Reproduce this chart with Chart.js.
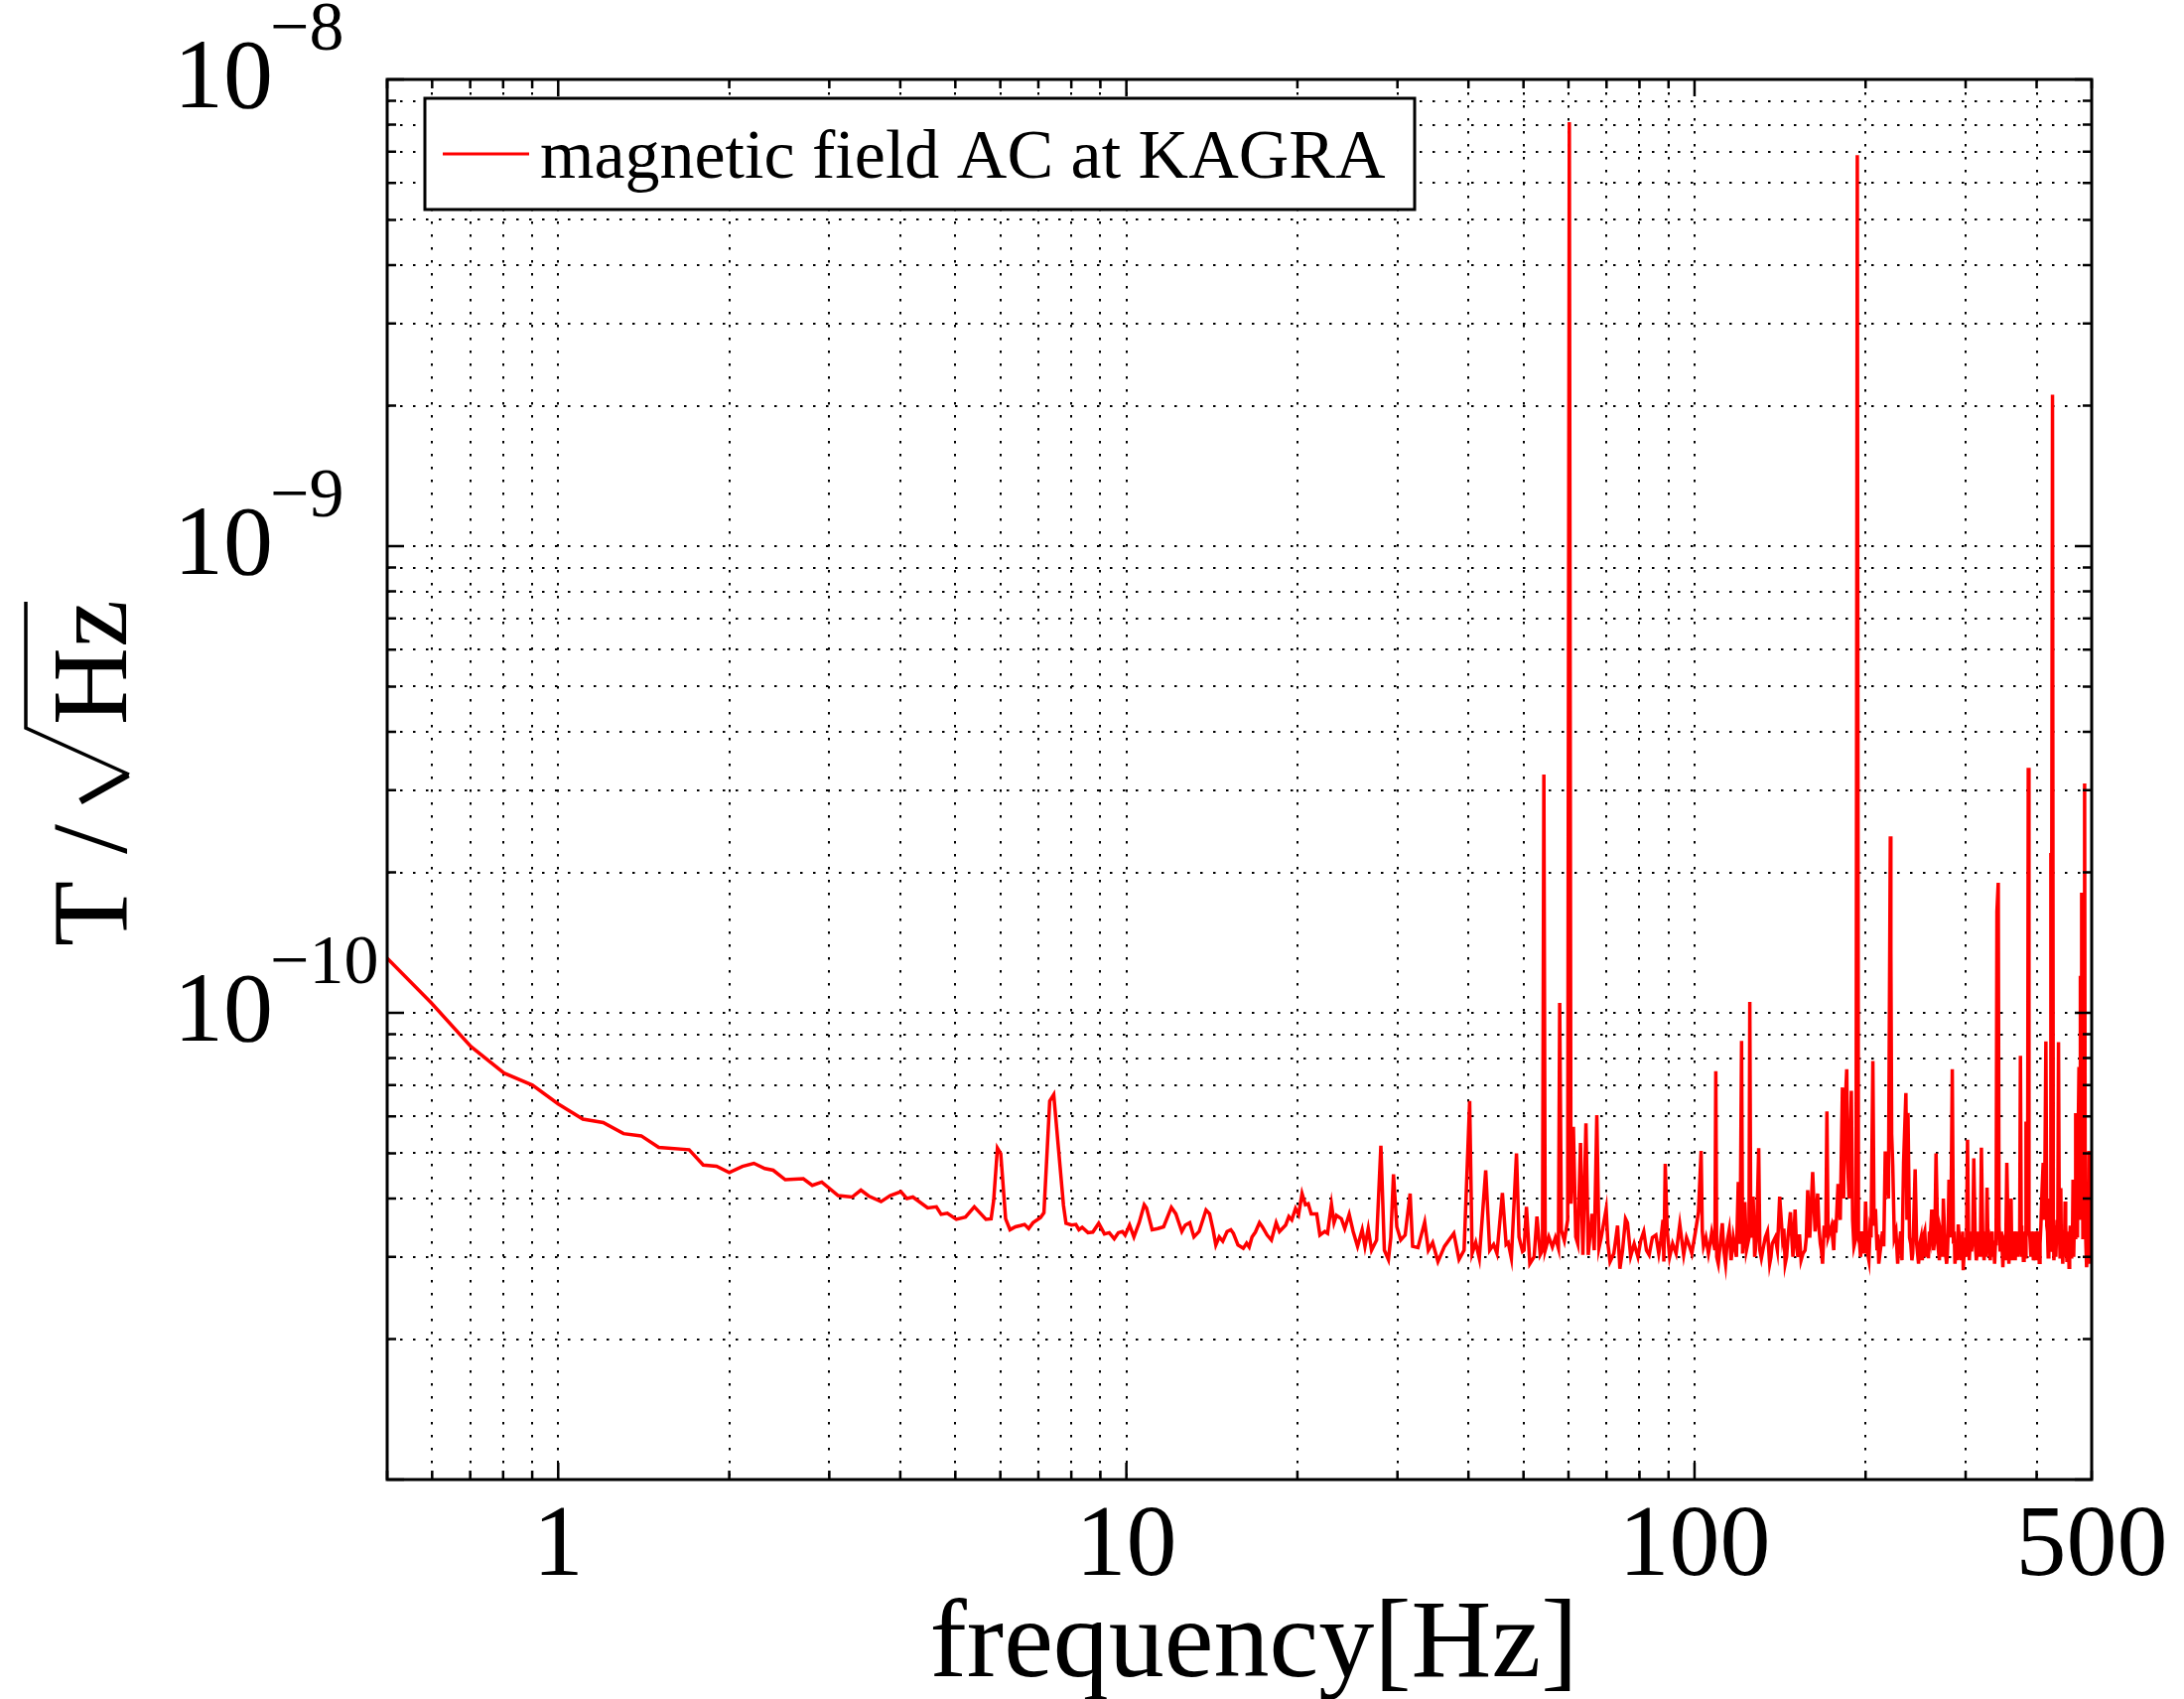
<!DOCTYPE html>
<html>
<head>
<meta charset="utf-8">
<script src="https://cdn.jsdelivr.net/npm/chart.js@4.4.1/dist/chart.umd.min.js"></script>
<style>
  html, body { margin: 0; padding: 0; background: #fff; }
  #wrap { width: 2200px; height: 1711px; }
</style>
</head>
<body>
<div id="wrap"><canvas id="psd" width="2200" height="1711"></canvas></div>
<script>
// spectrum, [frequency Hz, T/sqrt(Hz)]
const lowBand = [
  [0.5,1.31e-10],[0.598,1.05e-10],[0.702,8.47e-11],[0.803,7.43e-11],[0.901,7.00e-11],[1.00,6.38e-11],
  [1.105,5.92e-11],[1.20,5.82e-11],[1.303,5.51e-11],[1.40,5.45e-11],[1.503,5.15e-11],[1.70,5.09e-11],
  [1.80,4.72e-11],[1.90,4.69e-11],[2.00,4.55e-11],[2.11,4.69e-11],[2.21,4.76e-11],[2.31,4.64e-11],
  [2.39,4.60e-11],[2.51,4.39e-11],[2.70,4.41e-11],[2.80,4.27e-11],[2.91,4.34e-11],[3.11,4.06e-11],
  [3.29,4.03e-11],[3.41,4.17e-11],[3.52,4.05e-11],[3.70,3.94e-11],[3.84,4.06e-11],[4.01,4.14e-11],
  [4.11,4.00e-11],[4.21,4.03e-11],[4.47,3.82e-11],[4.63,3.84e-11],[4.72,3.70e-11],[4.84,3.72e-11],
  [5.02,3.61e-11],[5.21,3.65e-11],[5.40,3.84e-11],[5.66,3.61e-11],[5.78,3.62e-11],[5.84,3.96e-11],
  [5.93,5.13e-11],[6.01,4.99e-11],[6.13,3.62e-11],[6.24,3.43e-11]
];
const midBand = [
  [6.38,3.48e-11],[6.51,3.50e-11],[6.62,3.52e-11],[6.73,3.45e-11],[6.85,3.55e-11],[7.06,3.64e-11],
  [7.16,3.73e-11],[7.33,6.47e-11],[7.45,6.68e-11],[7.60,5.07e-11],[7.75,3.87e-11],[7.83,3.54e-11],
  [8.01,3.51e-11],[8.15,3.52e-11],[8.25,3.43e-11],[8.36,3.47e-11],[8.56,3.38e-11],[8.73,3.39e-11],
  [8.94,3.54e-11],[9.15,3.36e-11],[9.33,3.38e-11],[9.52,3.28e-11],[9.68,3.38e-11],[9.84,3.40e-11],
  [9.95,3.34e-11],[10.13,3.51e-11],[10.31,3.31e-11],[10.53,3.55e-11],[10.75,3.88e-11],[10.85,3.82e-11],
  [11.10,3.43e-11],[11.36,3.45e-11],[11.63,3.48e-11],[12.00,3.83e-11],[12.22,3.71e-11],[12.52,3.40e-11],
  [12.70,3.51e-11],[12.93,3.55e-11],[13.15,3.31e-11],[13.43,3.40e-11],[13.81,3.78e-11],[14.01,3.71e-11],
  [14.21,3.43e-11],[14.37,3.18e-11],[14.57,3.31e-11],[14.78,3.24e-11],[15.04,3.40e-11],[15.27,3.43e-11],
  [15.43,3.37e-11],[15.72,3.18e-11],[16.06,3.13e-11],[16.28,3.21e-11],[16.45,3.15e-11],[16.64,3.31e-11],
  [16.87,3.39e-11],[17.15,3.55e-11],[17.35,3.48e-11],[17.69,3.34e-11],[18.00,3.26e-11],[18.35,3.55e-11],
  [18.60,3.40e-11],[19.07,3.51e-11],[19.32,3.66e-11],[19.55,3.60e-11],[19.85,3.81e-11],[20.10,3.70e-11],
  [20.38,4.10e-11],[20.66,3.88e-11],[20.90,3.90e-11],[21.15,3.71e-11],[21.63,3.71e-11],[21.91,3.34e-11],
  [22.35,3.40e-11],[22.60,3.37e-11],[22.96,3.89e-11],[23.20,3.55e-11],[23.43,3.68e-11],[23.90,3.62e-11],
  [24.23,3.45e-11],[24.67,3.70e-11],[25.07,3.40e-11],[25.52,3.16e-11],[26.00,3.43e-11],[26.30,3.16e-11],
  [26.65,3.45e-11],[27.01,3.10e-11],[27.57,3.26e-11],[28.05,5.19e-11],[28.45,3.10e-11],[28.92,2.96e-11],
  [29.20,3.30e-11],[29.52,4.51e-11],[29.92,3.48e-11],[30.40,3.26e-11],[30.95,3.34e-11],[31.58,4.10e-11],
  [31.90,3.16e-11],[32.60,3.14e-11],[33.50,3.56e-11],[34.00,3.10e-11],[34.60,3.22e-11],[35.35,2.93e-11],
  [36.30,3.16e-11],[37.70,3.37e-11],[38.50,2.96e-11],[39.30,3.10e-11],[40.20,6.47e-11],[40.60,3.05e-11],
  [41.20,3.22e-11],[41.80,2.98e-11],[42.90,4.60e-11],[43.60,3.10e-11]
];
const lineBand = [
  [44.30,3.19e-11],[44.90,3.05e-11],[45.90,4.11e-11],[46.60,3.19e-11],[47.00,3.22e-11],[47.60,2.98e-11],
  [48.60,5.00e-11],[49.10,3.31e-11],[49.80,3.08e-11],[50.10,3.10e-11],[50.60,3.84e-11],[51.30,2.90e-11],
  [52.20,3.00e-11],[52.80,3.66e-11],[53.50,3.03e-11],[54.00,3.10e-11],[54.30,3.24e-10],[54.60,3.10e-11],
  [55.40,3.31e-11],[56.20,3.15e-11],[56.90,3.30e-11],[57.60,3.13e-11],[57.90,1.05e-10],[58.30,3.42e-11],
  [59.00,3.25e-11],[59.80,3.60e-11],[60.20,8.10e-9],[60.60,3.90e-11],[61.20,5.70e-11],[61.80,3.31e-11],
  [62.30,3.20e-11],[63.00,5.26e-11],[63.60,3.03e-11],[64.40,5.80e-11],[65.00,3.03e-11],[66.00,3.71e-11],
  [66.60,3.10e-11],[67.30,6.04e-11],[67.90,3.14e-11],[68.50,3.30e-11],[69.90,3.80e-11],[70.40,3.20e-11],
  [71.00,2.93e-11],[72.10,3.05e-11],[73.20,3.50e-11],[73.90,2.83e-11],[74.70,3.10e-11],[75.60,3.62e-11],
  [76.20,3.55e-11],[77.20,3.01e-11],[78.30,3.20e-11],[79.50,3.00e-11],[80.40,3.25e-11],[81.40,3.40e-11],
  [82.30,3.10e-11],[83.20,3.03e-11],[84.30,3.30e-11],[85.50,3.34e-11],[86.50,3.05e-11],[87.20,3.25e-11],
  [88.00,3.60e-11],[88.30,2.93e-11],[88.80,4.75e-11],[89.50,3.42e-11],[90.40,3.00e-11],[91.50,3.20e-11],
  [92.80,3.05e-11],[94.20,3.52e-11],[95.70,3.03e-11],[96.80,3.30e-11],[97.60,3.21e-11],[98.90,3.05e-11],
  [100.3,3.38e-11],[101.6,3.74e-11],[102.7,5.06e-11],[103.2,3.40e-11],[103.7,3.16e-11]
];
const highBand = [
  [104.7,3.30e-11],[105.8,3.05e-11],[107.2,3.38e-11],[108.6,3.10e-11],[109.0,7.50e-11],[109.4,3.00e-11],
  [110.1,2.90e-11],[111.9,3.54e-11],[113.4,2.90e-11],[115.1,3.43e-11],[116.0,2.95e-11],[117.0,3.30e-11],
  [118.5,3.00e-11],[119.4,4.34e-11],[120.3,3.20e-11],[121.0,8.71e-11],[121.5,3.05e-11],[122.6,3.93e-11],
  [123.4,3.10e-11],[124.7,3.30e-11],[125.1,1.055e-10],[125.6,3.30e-11],[126.8,4.04e-11],[127.6,3.00e-11],
  [129.7,5.13e-11],[130.3,3.10e-11],[131.1,2.98e-11],[133.2,3.30e-11],[135.6,2.90e-11],[137.0,3.20e-11],
  [138.7,3.30e-11],[141.2,4.04e-11],[142.8,3.30e-11],[144.4,2.90e-11],[146.0,3.30e-11],[147.5,3.74e-11],
  [149.0,3.00e-11],[150.3,3.79e-11],[152.0,3.00e-11],[154.0,2.95e-11],[156.5,3.10e-11],[158.2,4.17e-11],
  [159.5,3.30e-11],[161.4,4.56e-11],[163.0,3.40e-11],[164.7,4.10e-11],[166.5,3.20e-11],[168.0,2.90e-11],
  [170.2,3.30e-11],[171.0,6.15e-11],[171.8,3.30e-11],[174.2,3.49e-11],[175.8,3.10e-11],[177.3,3.38e-11],
  [178.9,4.30e-11],[180.5,3.60e-11],[182.1,6.92e-11],[183.0,4.00e-11],[183.8,6.00e-11],[185.3,7.57e-11],
  [186.0,4.80e-11],[187.0,4.00e-11],[188.8,6.81e-11],[189.8,3.60e-11],[190.8,3.16e-11],[192.4,3.30e-11],
  [193.4,6.88e-9],[194.3,3.30e-11],[196.0,3.00e-11],[198.0,3.20e-11],[200.0,3.94e-11],[201.2,3.10e-11],
  [202.7,2.95e-11],[204.5,3.30e-11],[206.0,7.88e-11],[207.0,3.50e-11],[208.2,3.80e-11],[209.5,3.10e-11],
  [211.0,2.90e-11],[213.0,3.20e-11],[215.3,3.16e-11],[216.6,5.05e-11],[217.6,4.50e-11],[219.4,4.00e-11],
  [221.1,2.39e-10],[221.6,1.36e-10],[222.3,5.50e-11],[223.3,4.70e-11],[224.7,3.30e-11],[227.8,2.90e-11],
  [229.5,3.20e-11],[231.8,2.95e-11],[233.3,4.77e-11],[235.5,6.73e-11],[236.5,3.60e-11],[237.5,6.10e-11],
  [239.0,3.30e-11],[241.3,2.95e-11],[243.0,3.50e-11],[244.5,4.62e-11],[246.0,3.20e-11],[247.9,2.90e-11],
  [250.5,3.30e-11],[252.9,3.32e-11],[255.5,3.00e-11],[258.0,2.98e-11],[260.0,3.30e-11],[261.5,3.79e-11],
  [263.5,3.10e-11],[266.1,5.00e-11],[268.0,3.20e-11],[269.7,2.95e-11],[272.0,3.30e-11],[274.1,4.00e-11],
  [276.0,3.10e-11],[277.8,2.90e-11],[279.5,3.40e-11],[280.4,4.39e-11],[282.5,3.30e-11],[284.2,7.57e-11],
  [285.5,3.20e-11],[287.3,2.90e-11],[289.0,3.20e-11],[291.2,3.52e-11],[293.5,3.10e-11],[295.5,3.20e-11],
  [297.1,2.81e-11],[299.5,3.30e-11],[302.3,5.35e-11],[303.5,3.40e-11],[305.5,3.20e-11],[307.2,3.08e-11],
  [310.1,4.88e-11],[312.0,3.20e-11],[314.7,3.08e-11],[317.0,3.30e-11],[319.8,5.14e-11],[321.5,3.30e-11],
  [323.3,2.95e-11],[325.0,3.40e-11],[327.2,4.22e-11],[330.0,3.20e-11],[332.9,3.21e-11],[335.0,3.00e-11],
  [337.4,2.90e-11],[339.5,3.50e-11],[340.6,1.65e-10],[342.4,1.90e-10],[343.5,3.50e-11],[345.1,3.08e-11],
  [348.9,2.85e-11],[351.5,3.30e-11],[354.5,4.77e-11],[356.5,3.30e-11],[358.5,3.20e-11],[360.7,4.00e-11],
  [363.0,3.10e-11],[365.5,3.30e-11],[368.1,3.30e-11],[371.0,3.00e-11],[373.5,3.40e-11],[374.6,8.09e-11],
  [375.8,3.50e-11],[377.5,3.20e-11],[379.1,2.95e-11],[381.5,3.40e-11],[383.2,5.85e-11],[384.5,3.60e-11],
  [385.6,3.40e-11],[386.7,3.35e-10],[387.8,3.40e-11],[390.9,3.00e-11],[393.5,3.30e-11],[396.2,3.05e-11],
  [399.0,3.30e-11],[401.5,3.10e-11],[404.3,2.92e-11],[407.0,3.50e-11],[409.0,4.20e-11],[410.8,4.77e-11],
  [412.0,3.60e-11],[413.5,4.30e-11],[415.3,8.69e-11],[416.8,3.50e-11],[419.2,3.00e-11],[421.5,4.00e-11],
  [423.8,2.20e-10],[424.8,8.00e-11],[426.6,2.11e-9],[428.0,3.50e-11],[430.0,3.20e-11],[432.4,3.00e-11],
  [434.6,3.60e-11],[437.1,8.65e-11],[438.5,3.50e-11],[441.2,4.21e-11],[443.5,3.20e-11],[446.0,3.40e-11],
  [448.9,3.94e-11],[451.0,3.20e-11],[453.5,3.40e-11],[456.2,2.85e-11],[458.5,3.50e-11],[461.0,3.30e-11],
  [463.6,4.39e-11],[466.0,3.50e-11],[468.6,6.10e-11],[471.0,4.50e-11],[473.0,5.00e-11],[474.9,7.66e-11],
  [476.5,4.50e-11],[478.0,1.20e-10],[480.1,1.81e-10],[481.5,6.00e-11],[483.5,4.00e-11],[485.9,3.10e-10],
  [487.0,4.00e-11],[489.8,2.85e-11],[492.0,3.50e-11],[494.3,5.06e-11],[496.0,3.40e-11],[497.5,2.90e-11],
  [499.6,2.90e-11],[500.0,4.31e-11]
];
// extra readings inside the dense noise floor above 100 Hz
const highBandFloor = [
  [106.5,3.20e-11],[112.6,3.10e-11],[114.2,3.25e-11],[128.6,3.30e-11],[132.2,3.15e-11],[134.4,3.40e-11],
  [136.3,3.00e-11],[139.9,3.10e-11],[143.6,3.45e-11],[145.2,3.00e-11],[148.3,3.30e-11],[151.1,3.20e-11],
  [153.0,3.35e-11],[155.2,3.05e-11],[157.3,3.30e-11],[165.6,3.45e-11],[167.2,3.10e-11],[169.1,3.50e-11],
  [176.5,3.60e-11],[195.2,3.20e-11],[197.0,3.40e-11],[199.0,3.05e-11],[203.6,3.40e-11],[210.2,3.35e-11],
  [212.0,3.05e-11],[214.2,3.40e-11],[226.2,3.40e-11],[228.6,3.15e-11],[230.6,3.40e-11],[240.2,3.20e-11],
  [242.1,3.05e-11],[249.2,3.20e-11],[251.7,2.95e-11],[254.2,3.40e-11],[256.8,3.20e-11],[259.0,3.40e-11],
  [264.8,3.30e-11],[270.8,3.40e-11],[273.0,3.00e-11],[278.6,3.05e-11],[286.4,3.40e-11],[290.1,2.95e-11],
  [292.3,3.30e-11],[294.5,2.95e-11],[296.3,3.40e-11],[298.3,3.10e-11],[300.9,3.00e-11],[304.5,2.95e-11],
  [306.3,3.40e-11],[308.7,3.30e-11],[313.3,2.95e-11],[315.8,3.40e-11],[318.4,3.00e-11],[322.4,3.10e-11],
  [326.1,3.00e-11],[328.6,3.10e-11],[331.4,2.95e-11],[334.0,3.40e-11],[336.2,3.25e-11],[338.5,3.20e-11],
  [346.9,3.40e-11],[350.2,3.25e-11],[352.8,2.95e-11],[357.5,2.90e-11],[359.6,3.30e-11],[361.8,2.95e-11],
  [364.2,3.40e-11],[366.8,2.95e-11],[369.5,3.40e-11],[372.2,3.20e-11],[376.6,3.00e-11],[378.3,3.35e-11],
  [380.3,3.20e-11],[382.3,3.00e-11],[389.3,3.30e-11],[392.2,3.40e-11],[394.8,2.95e-11],[397.6,3.40e-11],
  [400.2,2.95e-11],[402.9,3.40e-11],[405.6,3.20e-11],[418.0,3.40e-11],[420.3,3.30e-11],[422.7,3.10e-11],
  [429.0,2.95e-11],[431.2,3.45e-11],[433.5,3.30e-11],[435.8,3.20e-11],[439.8,3.00e-11],[442.3,3.00e-11],
  [444.7,2.90e-11],[447.5,3.00e-11],[450.0,3.50e-11],[452.2,2.95e-11],[454.8,3.30e-11],[457.3,3.20e-11],
  [459.7,3.00e-11],[462.3,3.10e-11],[464.8,3.00e-11],[467.3,3.30e-11],[469.8,3.50e-11],[472.0,3.30e-11],
  [477.2,3.60e-11],[479.0,4.50e-11],[482.5,3.30e-11],[484.7,3.60e-11],[488.4,3.20e-11],[491.0,3.00e-11],
  [493.2,3.30e-11],[495.2,3.00e-11],[496.8,3.60e-11],[498.5,3.40e-11]
];

const seriesLabel = 'magnetic field AC at KAGRA';
const xLabelValues = [1, 10, 100, 500];
const yLabelExponents = [-8, -9, -10];
const xDecades = [0.1, 1, 10, 100];
const yDecades = [1e-11, 1e-10, 1e-9];
const xRange = [0.5, 500];
const yRange = [1e-11, 1e-8];

const serif = '"Liberation Serif", "Times New Roman", serif';

function logTicks(decades, lo, hi) {
  const out = [];
  decades.forEach(d => {
    for (let m = 1; m <= 9; m++) {
      const v = +(d * m).toPrecision(6);
      if (v >= lo * 0.999 && v <= hi * 1.001) out.push(v);
    }
  });
  if (!out.includes(hi)) out.push(hi);
  return out;
}
const xTicks = logTicks(xDecades, xRange[0], xRange[1]);
const yTicks = logTicks(yDecades, yRange[0], yRange[1]);

const isDecade = v => Math.abs(Math.log10(v) - Math.round(Math.log10(v))) < 1e-6;

const points = [...lowBand, ...midBand, ...lineBand, ...highBand, ...highBandFloor]
  .sort((a, b) => a[0] - b[0])
  .map(([f, b]) => ({ x: f, y: b }));

// matlab style box, inward ticks, labels and legend
const axesDecor = {
  id: 'axesDecor',
  afterDatasetsDraw(chart) {
    const { ctx, chartArea: a, scales: { x, y } } = chart;
    ctx.save();
    ctx.strokeStyle = '#000';
    ctx.fillStyle = '#000';
    ctx.lineWidth = 2.5;
    ctx.beginPath();
    xTicks.forEach(v => {
      const px = x.getPixelForValue(v);
      const len = isDecade(v) ? 17 : 9;
      ctx.moveTo(px, a.bottom); ctx.lineTo(px, a.bottom - len);
      ctx.moveTo(px, a.top); ctx.lineTo(px, a.top + len);
    });
    yTicks.forEach(v => {
      const py = y.getPixelForValue(v);
      const len = isDecade(v) ? 17 : 9;
      ctx.moveTo(a.left, py); ctx.lineTo(a.left + len, py);
      ctx.moveTo(a.right, py); ctx.lineTo(a.right - len, py);
    });
    ctx.stroke();
    ctx.lineWidth = 3;
    ctx.strokeRect(a.left, a.top, a.right - a.left, a.bottom - a.top);

    // y tick labels 10^n
    ctx.textBaseline = 'middle';
    ctx.textAlign = 'left';
    yLabelExponents.forEach(e => {
      const py = y.getPixelForValue(Math.pow(10, e));
      ctx.font = `100px ${serif}`;
      ctx.fillText('10', 175, py + 2);
      ctx.font = `70px ${serif}`;
      ctx.fillText('\u2212' + Math.abs(e), 272, py - 48);
    });

    // x tick labels
    ctx.textAlign = 'center';
    ctx.font = `102px ${serif}`;
    xLabelValues.forEach(v => {
      ctx.fillText(String(v), x.getPixelForValue(v), 1559);
    });

    // x title
    ctx.textBaseline = 'alphabetic';
    ctx.font = `112px ${serif}`;
    ctx.fillText('frequency[Hz]', 1263, 1688);

    // y title, radical drawn by hand
    ctx.save();
    ctx.translate(127, 782);
    ctx.rotate(-Math.PI / 2);
    ctx.font = `108px ${serif}`;
    ctx.textAlign = 'left';
    ctx.fillText('T /', -171, 0);
    ctx.lineJoin = 'miter';
    ctx.lineWidth = 7;
    ctx.beginPath();
    ctx.moveTo(-25, -46);
    ctx.lineTo(2, 2);
    ctx.stroke();
    ctx.lineWidth = 3.5;
    ctx.beginPath();
    ctx.moveTo(2, 3);
    ctx.lineTo(49, -101);
    ctx.lineTo(176, -101);
    ctx.stroke();
    ctx.fillText('Hz', 52, 0);
    ctx.restore();

    // legend
    const lx = a.left + 38, ly = a.top + 19, lw = 997, lh = 112;
    ctx.fillStyle = '#fff';
    ctx.fillRect(lx, ly, lw, lh);
    ctx.lineWidth = 3;
    ctx.strokeRect(lx, ly, lw, lh);
    ctx.strokeStyle = chart.data.datasets[0].borderColor;
    ctx.beginPath();
    ctx.moveTo(lx + 18, ly + 56);
    ctx.lineTo(lx + 105, ly + 56);
    ctx.stroke();
    ctx.fillStyle = '#000';
    ctx.textAlign = 'left';
    ctx.font = `70px ${serif}`;
    ctx.fillText(chart.data.datasets[0].label, lx + 116, ly + 80);
    ctx.restore();
  }
};

const gridStyle = {
  color: '#000',
  lineWidth: 2,
  drawTicks: false
};

new Chart(document.getElementById('psd'), {
  type: 'line',
  data: {
    datasets: [{
      label: seriesLabel,
      data: points,
      borderColor: '#ff0000',
      borderWidth: 3.5,
      pointRadius: 0,
      tension: 0,
      fill: false
    }]
  },
  options: {
    responsive: false,
    devicePixelRatio: 1,
    animation: false,
    events: [],
    layout: { padding: { top: 80, right: 93, left: 0, bottom: 0 } },
    plugins: { legend: { display: false }, tooltip: { enabled: false } },
    scales: {
      x: {
        type: 'logarithmic',
        min: xRange[0],
        max: xRange[1],
        afterBuildTicks: s => { s.ticks = xTicks.map(v => ({ value: v })); },
        afterFit: s => { s.height = 221; },
        ticks: { display: false },
        grid: gridStyle,
        border: { display: false, dash: [2.5, 10.5] }
      },
      y: {
        type: 'logarithmic',
        min: yRange[0],
        max: yRange[1],
        afterBuildTicks: s => { s.ticks = yTicks.map(v => ({ value: v })); },
        afterFit: s => { s.width = 390; },
        ticks: { display: false },
        grid: gridStyle,
        border: { display: false, dash: [2.5, 10.5] }
      }
    }
  },
  plugins: [axesDecor]
});
</script>
</body>
</html>
